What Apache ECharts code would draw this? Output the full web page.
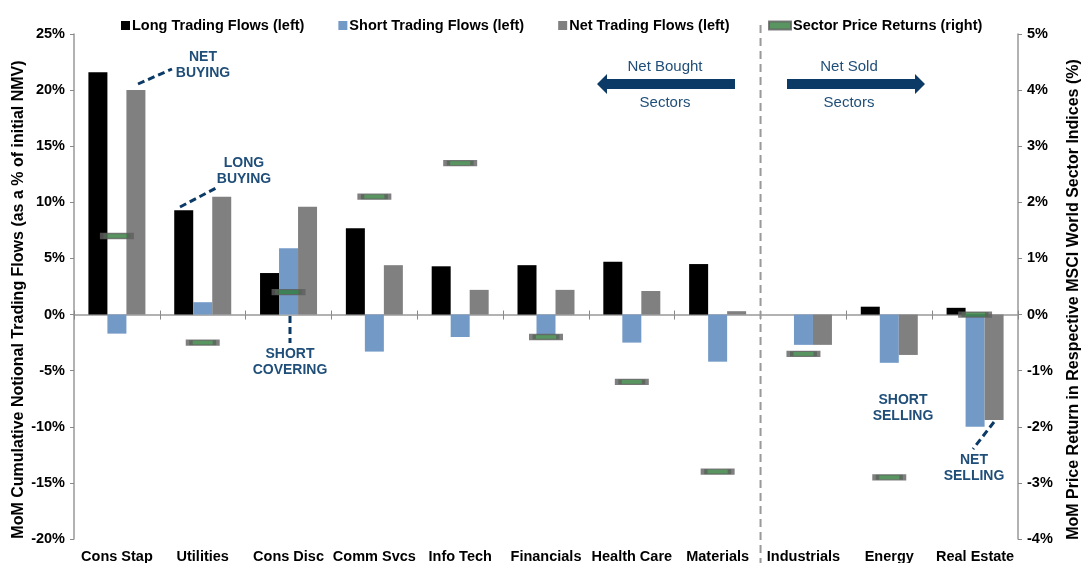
<!DOCTYPE html>
<html>
<head>
<meta charset="utf-8">
<script src="https://cdn.jsdelivr.net/npm/echarts@6/dist/echarts.min.js"></script>
<style>
  html, body { margin: 0; padding: 0; background: #fff; }
  #main { width: 1086px; height: 563px; }
</style>
</head>
<body>
<div id="main"></div>
<script>
// sectors, left-axis flows (% of NMV) and right-axis price returns (%)
var categories = ['Cons Stap', 'Utilities', 'Cons Disc', 'Comm Svcs', 'Info Tech', 'Financials', 'Health Care', 'Materials', 'Industrials', 'Energy', 'Real Estate'];
var longFlows = [21.6, 9.3, 3.7, 7.7, 4.3, 4.4, 4.7, 4.5, 0.0, 0.7, 0.6];
var shortFlows = [-1.7, 1.1, 5.9, -3.3, -2.0, -1.8, -2.5, -4.2, -2.7, -4.3, -10.0];
var netFlows = [20.0, 10.5, 9.6, 4.4, 2.2, 2.2, 2.1, 0.3, -2.7, -3.6, -9.4];
var priceReturns = [1.4, -0.5, 0.4, 2.1, 2.7, -0.4, -1.2, -2.8, -0.7, -2.9, 0.0];

var myChart = echarts.init(document.getElementById('main'));

var font = 'Liberation Sans, Arial, sans-serif';
var navy = '#1f4e79';
var darkNavy = '#0b3a66';

var labelStyle = { color: '#000', fontWeight: 'bold', fontSize: 14.5, fontFamily: font };
// names sit a little below the grid middle in the original
var nameStyle = { color: '#000', fontWeight: 'bold', fontSize: 16, fontFamily: font, padding: [0, 26, 0, 0] };

function annText(x, y, text, extra) {
  return {
    type: 'text', x: x, y: y, z: 100,
    style: Object.assign({
      text: text, fill: navy, font: 'bold 14px ' + font,
      align: 'center', verticalAlign: 'middle', lineHeight: 16
    }, extra || {})
  };
}
function dashLine(x1, y1, x2, y2) {
  return {
    type: 'line', z: 100,
    shape: { x1: x1, y1: y1, x2: x2, y2: y2 },
    style: { stroke: darkNavy, lineWidth: 3, lineDash: [7, 4] }
  };
}

var option = {
  backgroundColor: '#fff',
  animation: false,
  grid: { left: 74, right: 68, top: 34, bottom: 24, outerBoundsMode: 'none' },
  legend: [
    {
      left: 116, top: 13, itemWidth: 9, itemHeight: 9, itemGap: 34,
      icon: 'rect',
      textStyle: { color: '#000', fontWeight: 'bold', fontSize: 14.5, fontFamily: font, padding: [0, 0, 0, -3] },
      data: ['Long Trading Flows (left)', 'Short Trading Flows (left)', 'Net Trading Flows (left)']
    },
    {
      left: 763, top: 13, itemWidth: 22, itemHeight: 8,
      icon: 'rect',
      textStyle: { color: '#000', fontWeight: 'bold', fontSize: 14.5, fontFamily: font, padding: [0, 0, 0, -3] },
      data: ['Sector Price Returns (right)']
    }
  ],
  xAxis: [
    {
      type: 'category',
      data: categories,
      axisLine: { onZero: true, lineStyle: { color: '#999', width: 1.5 } },
      axisTick: { show: true, length: 5, lineStyle: { color: '#888' } },
      axisLabel: { show: false }
    },
    {
      type: 'category',
      data: categories,
      position: 'bottom',
      axisLine: { show: false, onZero: false },
      axisTick: { show: false },
      axisLabel: Object.assign({ margin: 10, interval: 0 }, labelStyle)
    },
    {
      // upper half of the crossing ticks on the zero line
      type: 'category',
      data: categories,
      position: 'top',
      axisLine: { show: false, onZero: true },
      axisTick: { show: true, length: 4, lineStyle: { color: '#888' } },
      axisLabel: { show: false }
    }
  ],
  yAxis: [
    {
      type: 'value',
      min: -20, max: 25, interval: 5,
      name: 'MoM Cumulative Notional Trading Flows (as a % of initial NMV)',
      nameLocation: 'middle', nameRotate: 90, nameGap: 47, nameMoveOverlap: false,
      nameTextStyle: nameStyle,
      axisLine: { show: true, lineStyle: { color: '#999', width: 1.5 } },
      axisTick: { show: true, length: 4, lineStyle: { color: '#888' } },
      splitLine: { show: false },
      axisLabel: Object.assign({ formatter: '{value}%', margin: 9 }, labelStyle)
    },
    {
      type: 'value',
      min: -4, max: 5, interval: 1,
      position: 'right',
      name: 'MoM Price Return in Respective MSCI World Sector Indices (%)',
      nameLocation: 'middle', nameRotate: 90, nameGap: 48, nameMoveOverlap: false,
      nameTextStyle: nameStyle,
      axisLine: { show: true, lineStyle: { color: '#999', width: 1.5 } },
      axisTick: { show: true, length: 4, lineStyle: { color: '#888' } },
      splitLine: { show: false },
      axisLabel: Object.assign({ formatter: '{value}%', margin: 9 }, labelStyle)
    }
  ],
  series: [
    {
      name: 'Long Trading Flows (left)', type: 'bar', barWidth: 19, barGap: '0%',
      itemStyle: { color: '#000' }, data: longFlows
    },
    {
      name: 'Short Trading Flows (left)', type: 'bar', barWidth: 19, barGap: '0%',
      itemStyle: { color: '#7399c6' }, data: shortFlows
    },
    {
      name: 'Net Trading Flows (left)', type: 'bar', barWidth: 19, barGap: '0%',
      itemStyle: { color: '#808080' }, data: netFlows
    },
    {
      name: 'Sector Price Returns (right)', type: 'scatter', yAxisIndex: 1,
      symbol: 'rect', symbolSize: [27, 5], z: 10,
      itemStyle: { color: '#2f7a3a', borderColor: '#5f5f5f', borderWidth: 3 },
      data: priceReturns
    }
  ]
};

myChart.setOption(option);

// divider between the net-bought and net-sold sectors
var xa = myChart.convertToPixel({ xAxisIndex: 0 }, 7);
var xb = myChart.convertToPixel({ xAxisIndex: 0 }, 8);
var divX = (xa + xb) / 2;

myChart.setOption({
  graphic: [
    {
      type: 'line', z: 1,
      shape: { x1: divX, y1: 25, x2: divX, y2: 563 },
      style: { stroke: '#999', lineWidth: 2, lineDash: [8, 5] }
    },
    // arrows
    {
      type: 'polygon', z: 100,
      shape: { points: [[597, 84], [607, 74], [607, 79], [735, 79], [735, 89], [607, 89], [607, 94]] },
      style: { fill: darkNavy }
    },
    {
      type: 'polygon', z: 100,
      shape: { points: [[787, 79], [915, 79], [915, 74], [925, 84], [915, 94], [915, 89], [787, 89]] },
      style: { fill: darkNavy }
    },
    annText(665, 67, 'Net Bought', { font: '15px ' + font }),
    annText(665, 103, 'Sectors', { font: '15px ' + font }),
    annText(849, 67, 'Net Sold', { font: '15px ' + font }),
    annText(849, 103, 'Sectors', { font: '15px ' + font }),
    // callouts
    annText(203, 65, 'NET\nBUYING'),
    dashLine(138, 84, 172, 69),
    annText(244, 171, 'LONG\nBUYING'),
    dashLine(180, 207, 216, 188),
    annText(290, 362, 'SHORT\nCOVERING'),
    dashLine(290, 316, 290, 343),
    annText(903, 408, 'SHORT\nSELLING'),
    annText(974, 468, 'NET\nSELLING'),
    dashLine(994, 422, 973, 449)
  ]
});

window.onresize = myChart.resize;
</script>
</body>
</html>
